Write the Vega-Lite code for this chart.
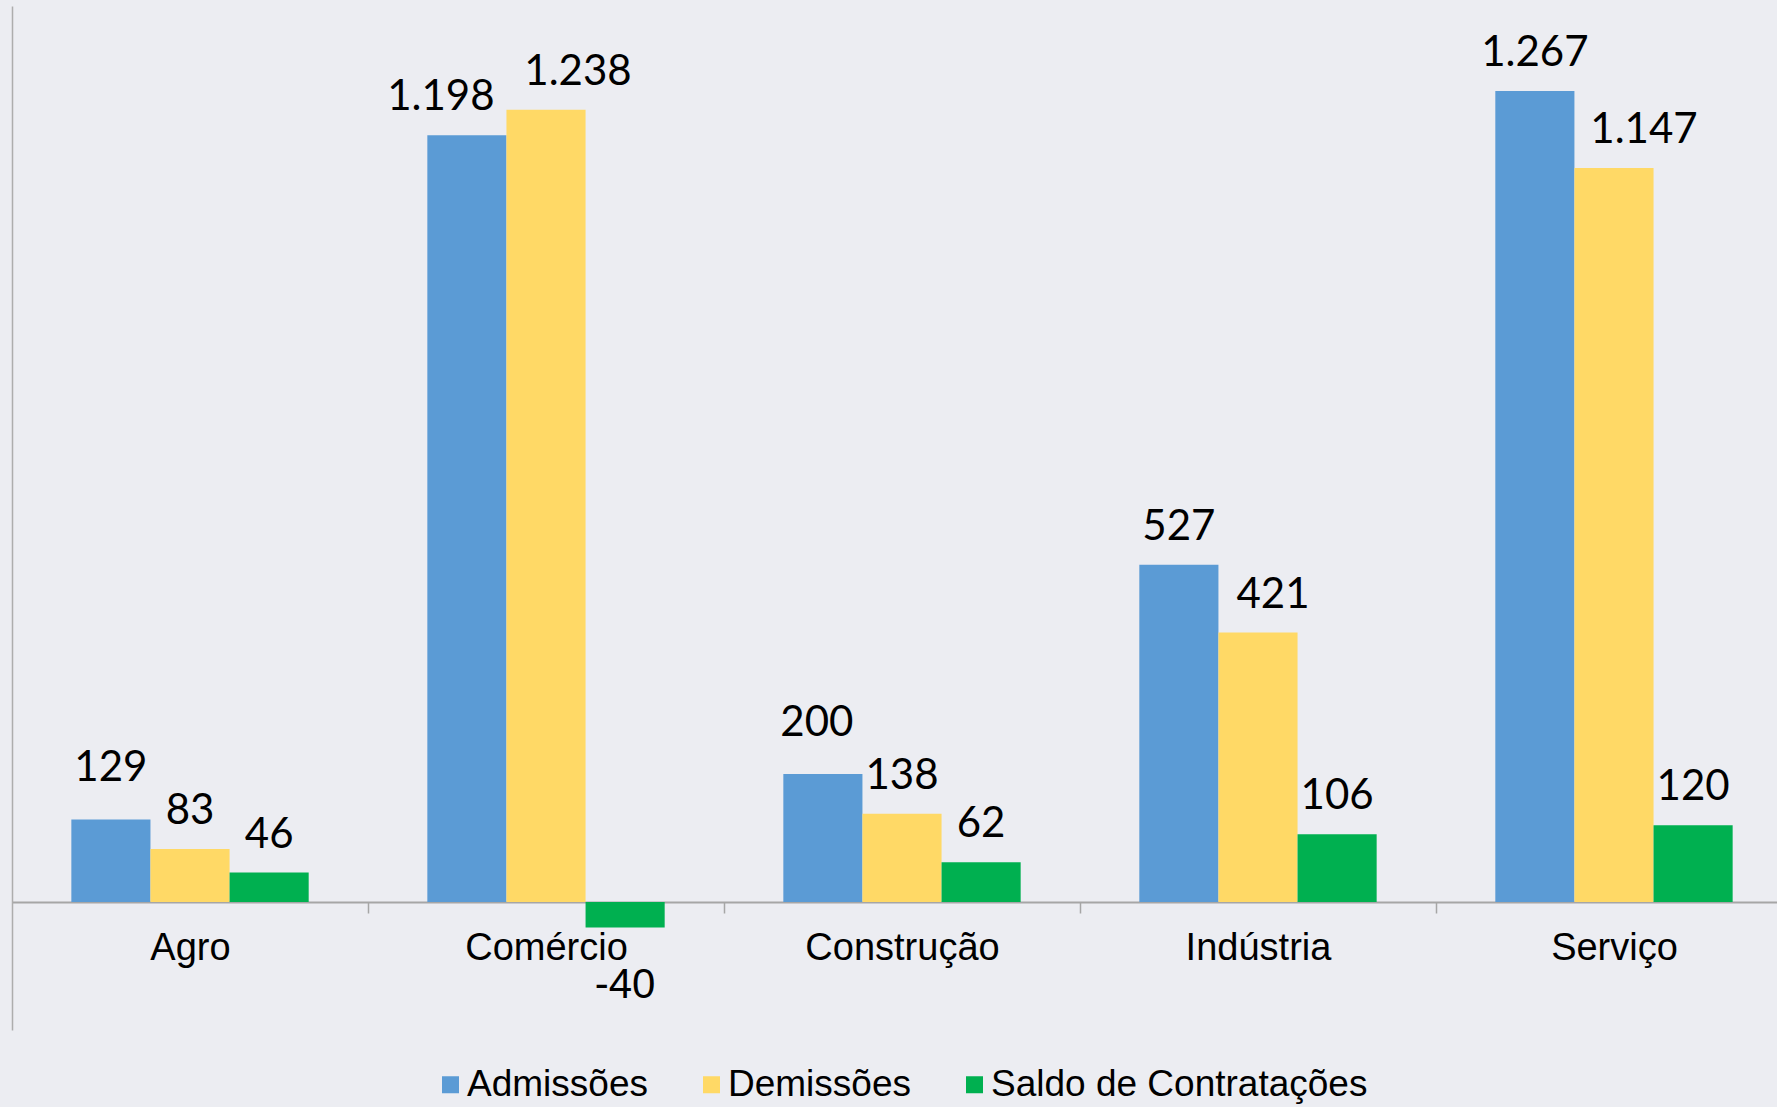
{
  "$schema": "https://vega.github.io/schema/vega-lite/v6.json",
  "width": 1765,
  "height": 1024,
  "autosize": "none",
  "padding": {"left": 12, "top": 6, "right": 0, "bottom": 77},
  "background": "#ECEDF2",
  "config": {"view": {"stroke": null}, "axis": {"grid": false}},
  "data": {
    "values": [
      {"cat": "Agro", "serie": "Admissões", "v": 129},
      {"cat": "Agro", "serie": "Demissões", "v": 83},
      {"cat": "Agro", "serie": "Saldo de Contratações", "v": 46},
      {"cat": "Comércio", "serie": "Admissões", "v": 1198},
      {"cat": "Comércio", "serie": "Demissões", "v": 1238},
      {"cat": "Comércio", "serie": "Saldo de Contratações", "v": -40},
      {"cat": "Construção", "serie": "Admissões", "v": 200},
      {"cat": "Construção", "serie": "Demissões", "v": 138},
      {"cat": "Construção", "serie": "Saldo de Contratações", "v": 62},
      {"cat": "Indústria", "serie": "Admissões", "v": 527},
      {"cat": "Indústria", "serie": "Demissões", "v": 421},
      {"cat": "Indústria", "serie": "Saldo de Contratações", "v": 106},
      {"cat": "Serviço", "serie": "Admissões", "v": 1267},
      {"cat": "Serviço", "serie": "Demissões", "v": 1147},
      {"cat": "Serviço", "serie": "Saldo de Contratações", "v": 120}
    ]
  },
  "encoding": {
    "x": {
      "field": "cat",
      "type": "nominal",
      "sort": ["Agro", "Comércio", "Construção", "Indústria", "Serviço"],
      "scale": {"range": [0, 1780], "paddingInner": 0.3333, "paddingOuter": 0.1667},
      "axis": {
        "title": null,
        "orient": "bottom",
        "offset": -128,
        "labelAngle": 0,
        "labelFont": "Liberation Sans",
        "labelFontSize": 38,
        "labelColor": "#000000",
        "labelBaseline": "alphabetic",
        "labelPadding": 46,
        "labelLimit": 0,
        "tickOffset": 178,
        "labelOffset": -178,
        "tickSize": 11,
        "tickColor": "#A6A6A6",
        "tickWidth": 1.5,
        "domainColor": "#A6A6A6",
        "domainWidth": 2
      }
    },
    "xOffset": {
      "field": "serie",
      "type": "nominal",
      "sort": ["Admissões", "Demissões", "Saldo de Contratações"]
    },
    "y": {
      "field": "v",
      "type": "quantitative",
      "scale": {"domain": [-200, 1400], "nice": false, "zero": false},
      "axis": {
        "title": null,
        "labels": false,
        "ticks": false,
        "grid": false,
        "domainColor": "#ADADAD",
        "domainWidth": 1.5
      }
    }
  },
  "layer": [
    {
      "mark": {"type": "bar"},
      "encoding": {
        "color": {
          "field": "serie",
          "type": "nominal",
          "sort": ["Admissões", "Demissões", "Saldo de Contratações"],
          "scale": {
            "domain": ["Admissões", "Demissões", "Saldo de Contratações"],
            "range": ["#5B9BD5", "#FFD966", "#00B050"]
          },
          "legend": {
            "title": null,
            "orient": "none",
            "legendX": 420,
            "legendY": 1060,
            "direction": "horizontal",
            "symbolType": "square",
            "symbolSize": 289,
            "symbolStrokeWidth": 0,
            "labelFont": "Liberation Sans",
            "labelFontSize": 37,
            "labelColor": "#000000",
            "labelLimit": 0,
            "labelOffset": -2,
            "columnPadding": 45
          }
        }
      }
    },
    {
      "transform": [
        {"calculate": "replace(replace(format(datum.v, ','), ',', '.'), '\u2212', '-')", "as": "lbl"}
      ],
      "mark": {
        "type": "text",
        "baseline": "alphabetic",
        "align": "center",
        "fontSize": 42,
        "color": "#000000",
        "font": {"expr": "datum.v < 0 ? 'Liberation Sans' : 'Lato'"},
        "dx": {"expr": "datum.cat == 'Comércio' && datum.serie == 'Admissões' ? -26 : datum.cat == 'Comércio' && datum.serie == 'Demissões' ? 32 : datum.cat == 'Serviço' && datum.serie == 'Demissões' ? 30 : datum.cat == 'Indústria' && datum.serie == 'Demissões' ? 15 : datum.cat == 'Construção' && datum.serie == 'Admissões' ? -6 : 0"},
        "dy": {"expr": "datum.v < 0 ? 70 : (datum.cat == 'Agro' || datum.cat == 'Construção') && datum.serie == 'Admissões' ? -38 : -25"}
      },
      "encoding": {
        "text": {"field": "lbl"}
      }
    }
  ]
}
